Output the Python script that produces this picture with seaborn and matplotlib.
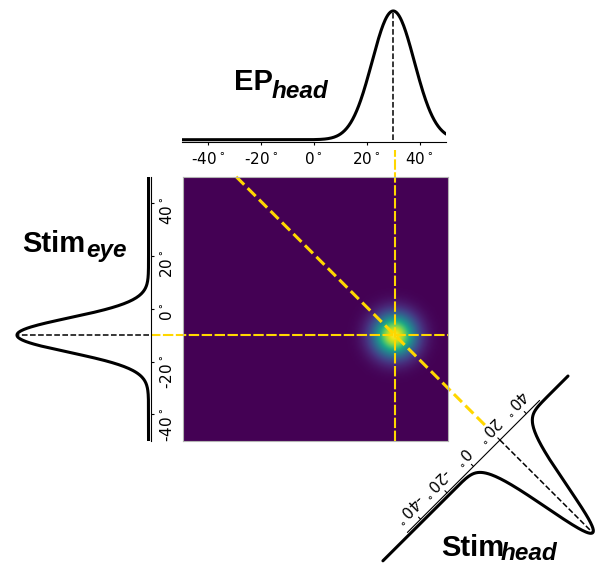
import numpy as np
import matplotlib
matplotlib.use("Agg")
import matplotlib.pyplot as plt
import seaborn as sns

# values (degrees)
AXIS_RANGE = [-50, 50]
TICKS = [-40, -20, 0, 20, 40]
EP_HEAD = {"mu": 30, "sd": 8.0}
STIM_EYE = {"mu": -10, "sd": 6.5}
STIM_HEAD = {"mu": 20, "sd": 8.0}
MAP_SD = 5.5                  # spread of the bright spot in the map
STIM_HEAD_RANGE = [-70, 70]
GUIDE_VERT_Y = [-50, 60]      # yellow line at EP_head
GUIDE_HORZ_X = [-62.5, 50]    # yellow line at Stim_eye
GUIDE_DIAG_D = [-80, 109.6]   # yellow line at Stim_head (x - y)

W, H = 598, 566
YELLOW = "#FFD700"
TITLE_FONT = "Liberation Sans"


def bump(v, mu, sd):
    return np.exp(-0.5 * ((v - mu) / sd) ** 2)


def tick_label(t):
    return f"{t}$^\\circ$"


def px_axes(fig, left, top, right, bottom):
    return fig.add_axes([left / W, 1 - bottom / H, (right - left) / W, (bottom - top) / H])


sns.set_style("white")
plt.rcParams.update({"text.color": "black", "xtick.color": "black",
                     "ytick.color": "black", "axes.labelcolor": "black"})
fig = plt.figure(figsize=(W / 100, H / 100), dpi=100)

ax_map = px_axes(fig, 183.3, 176.7, 447.7, 440.7)
ax_top = px_axes(fig, 181.7, 8.4, 446.1, 142.3)
ax_left = px_axes(fig, 15.0, 176.7, 150.5, 440.7)

# ---- joint map ----
grid = np.linspace(AXIS_RANGE[0], AXIS_RANGE[1], 201)
gx, gy = np.meshgrid(grid, grid)
joint = bump(gx, EP_HEAD["mu"], MAP_SD) * bump(gy, STIM_EYE["mu"], MAP_SD)
ax_map.imshow(joint, origin="lower", cmap="viridis", aspect="auto",
              extent=AXIS_RANGE + AXIS_RANGE, interpolation="bilinear")

ax_map.plot([EP_HEAD["mu"]] * 2, GUIDE_VERT_Y, ls="--", color=YELLOW, lw=1.5,
            dashes=(5, 1.2), clip_on=False)
ax_map.plot(GUIDE_HORZ_X, [STIM_EYE["mu"]] * 2, ls="--", color=YELLOW, lw=1.5,
            dashes=(5, 1.2), clip_on=False)
d = np.array(GUIDE_DIAG_D)
s0 = STIM_HEAD["mu"]
ax_map.plot((s0 + d) / 2, (s0 - d) / 2, ls="--", color=YELLOW, lw=2.2, clip_on=False)

# ---- rotated Stim_head density (drawn in map coords, axis along x + y) ----
D_AXIS = 119.5
D_BASE = 121.0
PEAK = 68.7
s = np.linspace(STIM_HEAD_RANGE[0], STIM_HEAD_RANGE[1], 600)
dd = D_BASE + PEAK * bump(s, **STIM_HEAD)
sns.lineplot(x=(s + dd) / 2, y=(s - dd) / 2, ax=ax_map, sort=False, estimator=None,
             color="black", lw=2.2, clip_on=False)
ax_map.plot([(AXIS_RANGE[0] + D_AXIS) / 2, (AXIS_RANGE[1] + D_AXIS) / 2],
            [(AXIS_RANGE[0] - D_AXIS) / 2, (AXIS_RANGE[1] - D_AXIS) / 2],
            color="black", lw=0.8, clip_on=False)
ax_map.plot([(s0 + D_AXIS) / 2, (s0 + D_BASE + PEAK) / 2],
            [(s0 - D_AXIS) / 2, (s0 - D_BASE - PEAK) / 2],
            color="black", ls="--", lw=1.1, clip_on=False)
for t in TICKS:
    ax_map.plot([(t + D_AXIS) / 2, (t + D_AXIS - 1.6) / 2],
                [(t - D_AXIS) / 2, (t - D_AXIS + 1.6) / 2],
                color="black", lw=0.8, clip_on=False)
    dl = D_AXIS - 8.5
    ax_map.text((t + dl) / 2, (t - dl) / 2, tick_label(t), rotation=225,
                rotation_mode="anchor", ha="center", va="center", fontsize=11)

ax_map.set_xlim(AXIS_RANGE)
ax_map.set_ylim(AXIS_RANGE)
ax_map.set_xticks([])
ax_map.set_yticks([])
for sp in ax_map.spines.values():
    sp.set_color("0.7")
    sp.set_linewidth(0.8)

# ---- EP_head (top) ----
xs = np.linspace(AXIS_RANGE[0], AXIS_RANGE[1], 400)
sns.lineplot(x=xs, y=bump(xs, **EP_HEAD), ax=ax_top, color="black", lw=2.2)
ax_top.plot([EP_HEAD["mu"]] * 2, [0, 1], color="black", ls="--", lw=1.1)
ax_top.set_xlim(AXIS_RANGE)
ax_top.set_ylim(-0.02, 1.02)
ax_top.set_yticks([])
ax_top.set_xticks(TICKS)
ax_top.set_xticklabels([tick_label(t) for t in TICKS])
ax_top.tick_params(axis="x", bottom=True, length=2.5, width=0.8, pad=3.5,
                   labelsize=11)
for name, sp in ax_top.spines.items():
    sp.set_visible(name == "bottom")
ax_top.spines["bottom"].set_color("black")
ax_top.spines["bottom"].set_linewidth(0.8)

# ---- Stim_eye (left) ----
ys = np.linspace(AXIS_RANGE[0], AXIS_RANGE[1], 400)
sns.lineplot(x=bump(ys, **STIM_EYE), y=ys, ax=ax_left, orient="y", sort=False,
             estimator=None, color="black", lw=2.2)
ax_left.plot([0, 1], [STIM_EYE["mu"]] * 2, color="black", ls="--", lw=1.1)
ax_left.set_xlim(1.015, -0.015)
ax_left.set_ylim(AXIS_RANGE)
ax_left.set_xticks([])
ax_left.yaxis.tick_right()
ax_left.set_yticks(TICKS)
ax_left.set_yticklabels([tick_label(t) for t in TICKS])
ax_left.tick_params(axis="y", right=True, left=False, labelright=True, labelleft=False,
                    length=2.5, width=0.8, pad=3.5, labelsize=11, labelrotation=90)
for name, sp in ax_left.spines.items():
    sp.set_visible(name == "right")
ax_left.spines["right"].set_color("black")
ax_left.spines["right"].set_linewidth(0.8)
ax_left.set_xlabel("")
ax_left.set_ylabel("")

# ---- titles ----
def title(x, y, main, sub, sx, sy):
    fig.text(x / W, 1 - y / H, main, family=TITLE_FONT, weight="bold", fontsize=21,
             ha="left", va="baseline")
    fig.text(sx / W, 1 - sy / H, sub, family=TITLE_FONT, weight="bold", style="italic",
             fontsize=17.5, ha="left", va="baseline")

title(234, 90, "EP", "head", 272, 98)
title(22, 251.7, "Stim", "eye", 86, 257)
title(441, 555.5, "Stim", "head", 501, 560.5)

fig.savefig("out.png", dpi=100)
